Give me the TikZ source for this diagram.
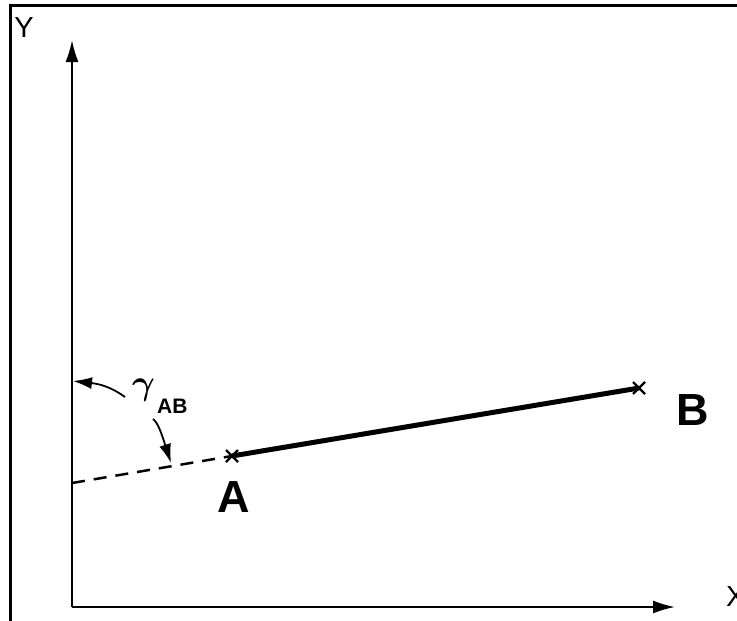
\documentclass[tikz,border=0pt]{standalone}
\usepackage{amsmath}
\usepackage{bm}
\usepackage{fontspec}
\setmainfont{Liberation Sans}
\usepackage{tikz}
\usetikzlibrary{calc, arrows.meta, positioning}

\tikzset{
    truc/.style={-{Latex[length=22pt, width=13pt]}, line width=2pt},
    muiten/.style={-{Latex[length=19pt, width=12pt]}, line width=1.8pt},
    dauX/.style={line width=2.2pt},
    nhan/.style={inner sep=0pt, font=\fontsize{45}{45}\selectfont\bfseries}
}

\begin{document}
\begin{tikzpicture}[x=1pt, y=-1pt]
    \useasboundingbox (0,0) rectangle (737,621);

    % 1. Khung (chỉ cạnh trái và cạnh trên)
    \draw[line width=3pt] (10,621) -- (10,5) -- (737,5);

    % 2. Hệ trục tọa độ
    \coordinate (O) at (72,607);
    \coordinate (Ytip) at (72,40);
    \coordinate (Xtip) at (675,607);
    \draw[truc] (O) -- (Ytip);
    \draw[truc] (O) -- (Xtip);
    \node[anchor=center, inner sep=0pt, font=\fontsize{29}{29}\selectfont] (Ylab) at (24,28) {Y};
    \node[anchor=west, inner sep=0pt, font=\fontsize{29}{29}\selectfont] (Xlab) at (726,597) {X};

    % 3. Đoạn AB và phần kéo dài nét đứt
    \coordinate (pA) at (232,456);
    \coordinate (pB) at (639,388);
    \coordinate (pC) at (72,483);
    \draw[line width=2.5pt, dash pattern=on 13pt off 9pt] (pC) -- (pA);
    \draw[line width=5pt] (pA) -- (pB);
    \draw[dauX] ($(pA)+(-6,-6)$) -- ($(pA)+(6,6)$) ($(pA)+(-6,6)$) -- ($(pA)+(6,-6)$);
    \draw[dauX] ($(pB)+(-6,-6)$) -- ($(pB)+(6,6)$) ($(pB)+(-6,6)$) -- ($(pB)+(6,-6)$);
    \node[nhan] (labA) at (234,497) {A};
    \node[nhan] (labB) at (693,410) {B};

    % 4. Góc gamma_AB
    \node[anchor=base west, inner sep=0pt] (gam) at (132,394) {\scalebox{3.5}{$\bm{\gamma}$}};
    \node[anchor=base west, inner sep=0pt, font=\fontsize{21}{21}\selectfont\bfseries] (gsub) at (157,413) {AB};
    \coordinate (s1) at (125,397);
    \coordinate (t1) at (73,381);
    \coordinate (s2) at (153,419);
    \coordinate (t2) at (171,463);
    \draw[muiten] (s1) .. controls (111,387) and (100,384) .. (t1);
    \draw[muiten] (s2) .. controls (158,423) and (161,432) .. (t2);
\end{tikzpicture}
\end{document}
